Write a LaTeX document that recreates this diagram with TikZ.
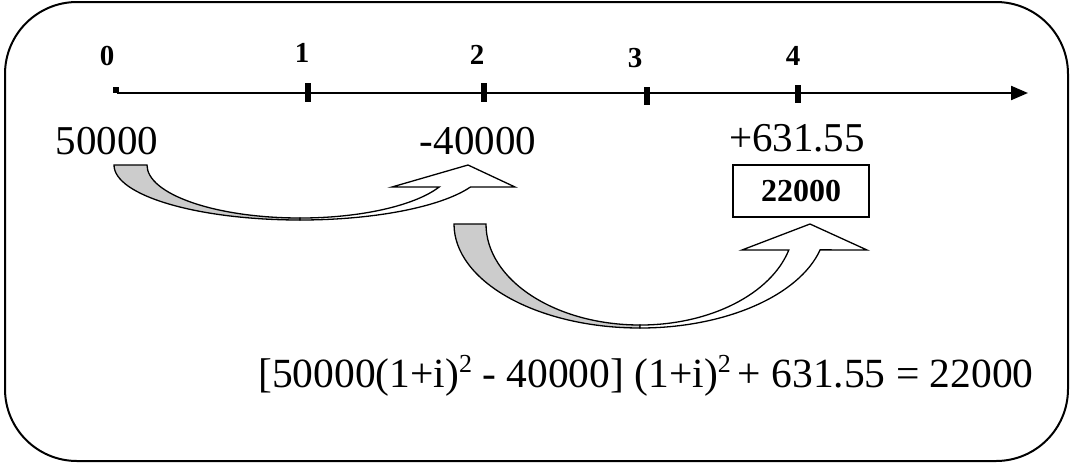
\documentclass[tikz,border=0pt]{standalone}
\usepackage{fontspec}
\setmainfont{Liberation Serif}
\usetikzlibrary{arrows.meta}
\definecolor{bandgray}{RGB}{204,204,204}
\newcommand{\supdigit}[1]{\raisebox{0.36em}{\fontsize{26}{26}\selectfont #1}}
\tikzset{
  frame/.style={draw=black, line width=2pt, rounded corners=72pt},
  axisline/.style={draw=black, line width=2.2pt, -{Triangle[length=17pt,width=14pt]}},
  tickmark/.style={draw=black, line width=5.5pt},
  ticklabel/.style={font=\fontsize{29}{33}\selectfont\bfseries, inner sep=0pt},
  amount/.style={font=\fontsize{41}{48}\selectfont, inner sep=0pt, anchor=base},
  resultbox/.style={draw=black, line width=1.5pt, minimum width=136pt, minimum height=52pt, inner sep=0pt, font=\fontsize{32}{36}\selectfont\bfseries},
  bandback/.style={draw=black, fill=bandgray, line width=1.3pt, line join=miter},
  bandfront/.style={draw=black, fill=white, line width=1.3pt, line join=miter},
  equation/.style={font=\fontsize{41.5}{48}\selectfont, inner sep=0pt, anchor=base west}
}
\begin{document}
\begin{tikzpicture}[x=1pt, y=-1pt]
\useasboundingbox (0,0) rectangle (1074,464);
% frame
\draw[frame] (5,2) rectangle (1068,461);
% axis
\coordinate (a0) at (117,93);
\coordinate (aend) at (1028,93);
\draw[axisline] (a0) -- (aend);
\fill (113,87) rectangle (119,93);
% ticks
\coordinate (t1) at (308,83);
\coordinate (t2) at (484,83);
\coordinate (t3) at (647,87);
\coordinate (t4) at (798,85);
\draw[tickmark] (t1) -- ++(0,19);
\draw[tickmark] (t2) -- ++(0,19);
\draw[tickmark] (t3) -- ++(0,18);
\draw[tickmark] (t4) -- ++(0,18);
% tick labels
\node[ticklabel] (l0) at (107,56) {0};
\node[ticklabel] (l1) at (302,53) {1};
\node[ticklabel] (l2) at (477,55) {2};
\node[ticklabel] (l3) at (635,58) {3};
\node[ticklabel] (l4) at (793,56) {4};
% amounts
\node[amount] (m0) at (107,154) {50000};
\node[amount] (m2) at (478,154) {-40000};
\node[amount] (m4) at (797,151) {+631.55};
\node[resultbox] (res) at (801,191) {22000};
% arrow 1
\draw[bandback] (114,165) arc[start angle=180, end angle=90, x radius=186, y radius=55]
  -- (300,218) arc[start angle=90, end angle=180, x radius=153, y radius=53] -- cycle;
\draw[bandfront] (300,220) arc[start angle=90, end angle=23.6, x radius=186, y radius=55]
  -- (515,187) -- (468,165) -- (392,187) -- (439.2,187)
  arc[start angle=24.5, end angle=90, x radius=153, y radius=53] -- cycle;
% arrow 2
\draw[bandback] (454,224) arc[start angle=180, end angle=90, x radius=186, y radius=104]
  -- (640,325) arc[start angle=90, end angle=180, x radius=154, y radius=101] -- cycle;
\draw[bandfront] (640,328) arc[start angle=90, end angle=14.4, x radius=186, y radius=104]
  -- (867,250) -- (810,224) -- (742,250) -- (788.8,250)
  arc[start angle=14.9, end angle=90, x radius=154, y radius=101] -- cycle;
% equation
\node[equation] (eq) at (258,387) {[50000(1+i)\supdigit{2} - 40000] (1+i)\supdigit{2}\,+ 631.55 = 22000};
\end{tikzpicture}
\end{document}
